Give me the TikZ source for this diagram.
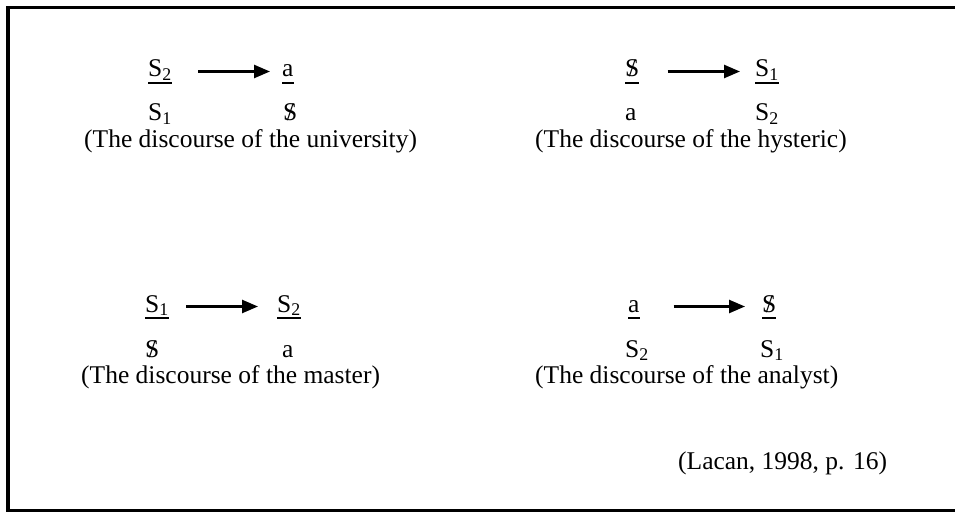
\documentclass[tikz,border=0pt]{standalone}
\usepackage{fontspec}
\setmainfont{Liberation Serif}
\usetikzlibrary{arrows.meta}
\newcommand\bS{\ooalign{S\cr\hidewidth/\hidewidth\cr}}
\newcommand\Sx[1]{S\textsubscript{#1}}
\newcommand\ulsym[1]{\setbox0\hbox{#1}\rlap{\rule[-6.75pt]{\wd0}{1.5pt}}\box0}
\tikzset{sym/.style={anchor=base west,inner sep=0pt,text height=17pt,text depth=6pt},
 low/.style={anchor=base west,inner sep=0pt},
 capt/.style={anchor=base west,inner sep=0pt},
 arr/.style={-{Triangle[length=16pt,width=13pt]},line width=2.5pt},
 rim/.style={line width=3.5pt},
 every node/.style={font=\fontsize{25.5}{30}\selectfont}}
\begin{document}
\begin{tikzpicture}[x=1pt,y=-1pt]
\useasboundingbox (0,0) rectangle (955,513);
\draw[rim] (955,7.5) -- (8,7.5) -- (8,510.5) -- (955,510.5);
% university
\node[sym] (uag) at (148,77) {\ulsym{\Sx2}};
\node[sym] (uot) at (282,77) {\ulsym{a}};
\node[low] (utr) at (148,121) {\Sx1};
\node[low] (upr) at (283,121) {\bS};
\node[capt] (ucap) at (84,148) {(The discourse of the university)};
\draw[arr,shorten <=26pt,shorten >=12pt] (uag) -- (uot);
% hysteric
\node[sym] (hag) at (625,77) {\ulsym{\bS}};
\node[sym] (hot) at (755,77) {\ulsym{\Sx1}};
\node[low] (htr) at (625,121) {a};
\node[low] (hpr) at (755,121) {\Sx2};
\node[capt] (hcap) at (535,148) {(The discourse of the hysteric)};
\draw[arr,shorten <=28pt,shorten >=15pt] (hag) -- (hot);
% master
\node[sym] (mag) at (145,312) {\ulsym{\Sx1}};
\node[sym] (mot) at (277,312) {\ulsym{\Sx2}};
\node[low] (mtr) at (145,357) {\bS};
\node[low] (mpr) at (282,357) {a};
\node[capt] (mcap) at (81,383) {(The discourse of the master)};
\draw[arr,shorten <=17pt,shorten >=19pt] (mag) -- (mot);
% analyst
\node[sym] (nag) at (628,312) {\ulsym{a}};
\node[sym] (not) at (762,312) {\ulsym{\bS}};
\node[low] (ntr) at (625,357) {\Sx2};
\node[low] (npr) at (760,357) {\Sx1};
\node[capt] (ncap) at (535,383) {(The discourse of the analyst)};
\draw[arr,shorten <=34pt,shorten >=17pt] (nag) -- (not);
\node[capt] (src) at (678,469) {(Lacan, 1998, p. 16)};
\end{tikzpicture}
\end{document}
